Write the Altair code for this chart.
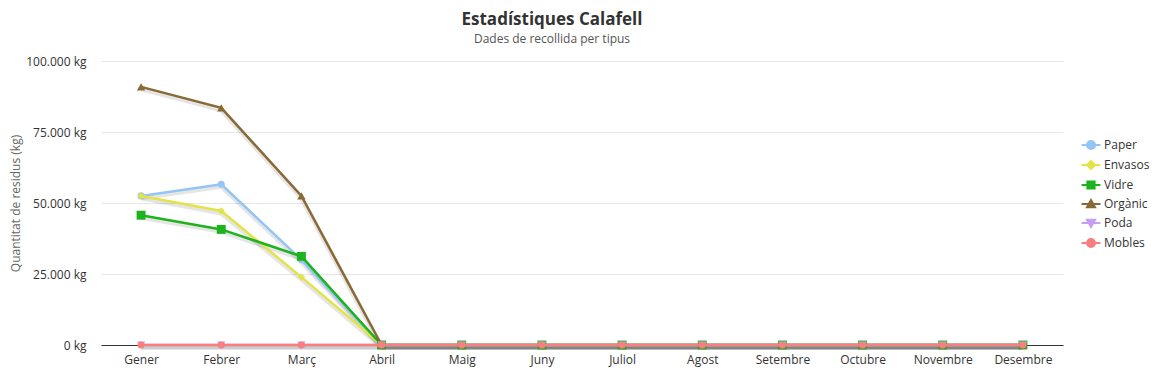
import altair as alt
import pandas as pd

mesos = ["Gener", "Febrer", "Març", "Abril", "Maig", "Juny", "Juliol",
         "Agost", "Setembre", "Octubre", "Novembre", "Desembre"]
series = ["Paper", "Envasos", "Vidre", "Orgànic", "Poda", "Mobles"]

paper = [52500, 56600, 30000, 0, 0, 0, 0, 0, 0, 0, 0, 0]
envasos = [52500, 47200, 23900, 0, 0, 0, 0, 0, 0, 0, 0, 0]
vidre = [45700, 40700, 31200, 0, 0, 0, 0, 0, 0, 0, 0, 0]
organic = [90900, 83500, 52500, 0, 0, 0, 0, 0, 0, 0, 0, 0]
poda = [0, 0, 0, 0, 0, 0, 0, 0, 0, 0, 0, 0]
mobles = [0, 0, 0, 0, 0, 0, 0, 0, 0, 0, 0, 0]

colors = ["#93c5f5", "#e3e34a", "#1db31d", "#8a6a34", "#c5a0f2", "#f77f7f"]
shapes = ["circle", "diamond", "square", "triangle-up", "triangle-down", "circle"]
sizes = [50, 55, 80, 70, 70, 50]

LINE = "M-1.05,0H1.05"
legend_paths = [
    LINE + "M-0.45,0A0.45,0.45,0,1,0,0.45,0A0.45,0.45,0,1,0,-0.45,0Z",
    LINE + "M0,-0.45L0.45,0L0,0.45L-0.45,0Z",
    LINE + "M-0.4,-0.4H0.4V0.4H-0.4Z",
    LINE + "M0,-0.45L0.45,0.35L-0.45,0.35Z",
    LINE + "M0,0.45L0.45,-0.35L-0.45,-0.35Z",
    LINE + "M-0.45,0A0.45,0.45,0,1,0,0.45,0A0.45,0.45,0,1,0,-0.45,0Z",
]

values = [paper, envasos, vidre, organic, poda, mobles]
rows = []
for s, vals in zip(series, values):
    for m, v in zip(mesos, vals):
        rows.append({"mes": m, "serie": s, "valor": v})
df = pd.DataFrame(rows)

x_enc = alt.X("mes:N", sort=mesos,
              scale=alt.Scale(type="point", padding=0.5, domain=mesos),
              axis=alt.Axis(title=None, labelAngle=0, ticks=False, grid=False,
                            domainColor="#333333", domainWidth=1,
                            labelPadding=9, labelFontSize=12,
                            labelColor="#333333"))
y_enc = alt.Y("valor:Q",
              scale=alt.Scale(domain=[0, 100000], nice=False),
              axis=alt.Axis(values=[0, 25000, 50000, 75000, 100000],
                            labelExpr="replace(format(datum.value, ',d'), ',', '.') + ' kg'",
                            title="Quantitat de residus (kg)",
                            domain=False, ticks=False,
                            gridColor="#e6e6e6", gridWidth=1,
                            labelPadding=15, labelFontSize=12,
                            labelColor="#333333",
                            titleColor="#666666", titleFontWeight="normal",
                            titleFontSize=12, titleX=-86, titleBaseline="middle"))

base = alt.Chart(df)

layers = [
    base.mark_line(strokeWidth=5, opacity=0.10, color="#000000",
                   yOffset=2).encode(x=x_enc, y=y_enc, detail="serie:N")
]

for s, c, shp, sz in zip(series, colors, shapes, sizes):
    sub = base.transform_filter(alt.datum.serie == s)
    layers.append(sub.mark_line(strokeWidth=2.5, color=c).encode(x=x_enc, y=y_enc))
    layers.append(sub.mark_point(filled=True, opacity=1, shape=shp, size=sz,
                                 color=c).encode(x=x_enc, y=y_enc))

legend_layer = base.transform_filter("false").mark_point(
    filled=True, strokeWidth=2, opacity=1
).encode(
    x=x_enc, y=y_enc,
    color=alt.Color("serie:N", scale=alt.Scale(domain=series, range=colors),
                    sort=series, legend=alt.Legend(title=None)),
    stroke=alt.Stroke("serie:N", scale=alt.Scale(domain=series, range=colors),
                      sort=series, legend=alt.Legend(title=None)),
    shape=alt.Shape("serie:N", scale=alt.Scale(domain=series, range=legend_paths),
                    sort=series, legend=alt.Legend(title=None)),
)
layers.append(legend_layer)

chart = alt.layer(*layers).properties(
    width=962, height=284,
    padding={"left": 93, "top": 53, "right": 86, "bottom": 26},
    autosize=alt.AutoSizeParams(type="none"),
    title=alt.TitleParams(
        text="Estadístiques Calafell",
        subtitle="Dades de recollida per tipus",
        anchor="middle", dx=-30,
        fontSize=17, fontWeight="bold", color="#333333",
        subtitleFontSize=12, subtitleColor="#555555",
        subtitlePadding=5, offset=9,
        font="Open Sans", subtitleFont="Open Sans",
    ),
).configure(font="Open Sans").configure_view(stroke=None).configure_legend(
    orient="none", legendX=980, legendY=74,
    symbolSize=324, rowPadding=1, labelOffset=3,
    labelFontSize=12, labelColor="#333333",
    symbolStrokeWidth=2, padding=0,
)

chart.save("out.html", embed_options={"renderer": "svg", "actions": False})
